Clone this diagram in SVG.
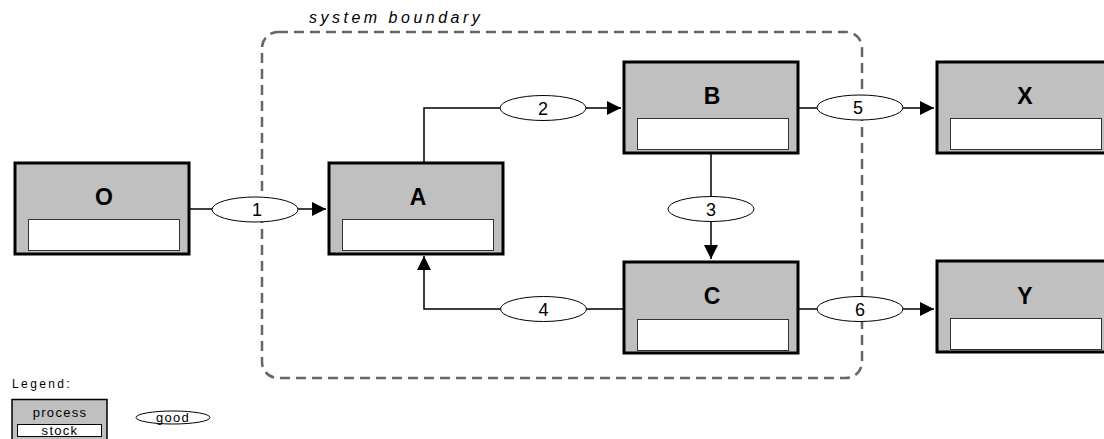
<svg xmlns="http://www.w3.org/2000/svg" width="1104" height="439" viewBox="0 0 1104 439">
<style>
.box{fill:#c0c0c0;stroke:#000;stroke-width:3}
.stock{fill:#fff;stroke:#333;stroke-width:1}
.lbl{font-family:"Liberation Sans",Arial,sans-serif;font-weight:bold;font-size:23px;text-anchor:middle;fill:#000}
.edge{fill:none;stroke:#000;stroke-width:1.5}
.good{fill:#fff;stroke:#000;stroke-width:1}
.gt{font-family:"Liberation Sans",Arial,sans-serif;font-size:18px;text-anchor:middle;fill:#000}
.lt{font-family:"Liberation Sans",Arial,sans-serif;font-size:13px;letter-spacing:1.3px;fill:#000}
</style>
<defs>
<marker id="arr" viewBox="0 0 10 10" refX="10" refY="5" markerWidth="14" markerHeight="14" markerUnits="userSpaceOnUse" orient="auto">
<path d="M0,0 L10,5 L0,10 z" fill="#000"/>
</marker>
</defs>
<rect x="262" y="32" width="600" height="346" rx="16" ry="16" fill="none" stroke="#666" stroke-width="2.5" stroke-dasharray="10,6"/>
<text x="309" y="22.5" font-family="'Liberation Sans',Arial,sans-serif" font-size="16" font-style="italic" letter-spacing="3.5">system boundary</text>
<g id="connectors">
<path class="edge" d="M190,209 L326,209" marker-end="url(#arr)"/>
<path class="edge" d="M424,162 L424,108 L621,108" marker-end="url(#arr)"/>
<path class="edge" d="M799,108 L934,108" marker-end="url(#arr)"/>
<path class="edge" d="M711,153 L711,259" marker-end="url(#arr)"/>
<path class="edge" d="M623,309 L424,309 L424,256" marker-end="url(#arr)"/>
<path class="edge" d="M799,309 L934,309" marker-end="url(#arr)"/>
<ellipse class="good" cx="255" cy="209.5" rx="43" ry="12.5"/><text class="gt" x="257" y="216">1</text>
<ellipse class="good" cx="543" cy="108" rx="43" ry="12.5"/><text class="gt" x="543" y="114.5">2</text>
<ellipse class="good" cx="711" cy="209" rx="43" ry="12.5"/><text class="gt" x="711" y="215.5">3</text>
<ellipse class="good" cx="543.5" cy="309" rx="43" ry="12.5"/><text class="gt" x="543.5" y="315.5">4</text>
<ellipse class="good" cx="860" cy="107.5" rx="43" ry="12.5"/><text class="gt" x="858" y="114">5</text>
<ellipse class="good" cx="860" cy="309" rx="43" ry="12.5"/><text class="gt" x="860" y="315.5">6</text>
</g>
<g id="node-O"><rect class="box" x="15" y="163" width="174" height="91"/><rect class="stock" x="28.5" y="219.5" width="151" height="31"/><text class="lbl" x="104" y="205">O</text></g>
<g id="node-A"><rect class="box" x="329" y="163" width="174" height="91"/><rect class="stock" x="342.5" y="219.5" width="151" height="31"/><text class="lbl" x="418" y="205">A</text></g>
<g id="node-B"><rect class="box" x="624" y="62" width="174" height="91"/><rect class="stock" x="637.5" y="118.5" width="151" height="31"/><text class="lbl" x="712" y="104">B</text></g>
<g id="node-C"><rect class="box" x="624" y="262" width="174" height="91"/><rect class="stock" x="637.5" y="319.5" width="151" height="31"/><text class="lbl" x="712" y="304">C</text></g>
<g id="node-X"><rect class="box" x="937" y="62" width="174" height="91"/><rect class="stock" x="950.5" y="118.5" width="151" height="31"/><text class="lbl" x="1025" y="104">X</text></g>
<g id="node-Y"><rect class="box" x="937" y="261" width="174" height="91"/><rect class="stock" x="950.5" y="318.5" width="151" height="31"/><text class="lbl" x="1025" y="304">Y</text></g>
<g id="legend">
<text class="lt" x="12" y="388" style="font-size:12px;letter-spacing:2.4px">Legend:</text>
<rect x="12" y="399.5" width="95" height="45" fill="#c0c0c0" stroke="#000" stroke-width="1.5"/>
<rect x="17.5" y="424.5" width="84" height="12" fill="#fff" stroke="#000" stroke-width="1"/>
<text class="lt" x="60" y="417" text-anchor="middle">process</text>
<text class="lt" x="60" y="434.5" text-anchor="middle">stock</text>
<ellipse class="good" cx="173" cy="417.5" rx="37" ry="6.5"/>
<text class="lt" x="173" y="422" text-anchor="middle">good</text>
</g>
</svg>
